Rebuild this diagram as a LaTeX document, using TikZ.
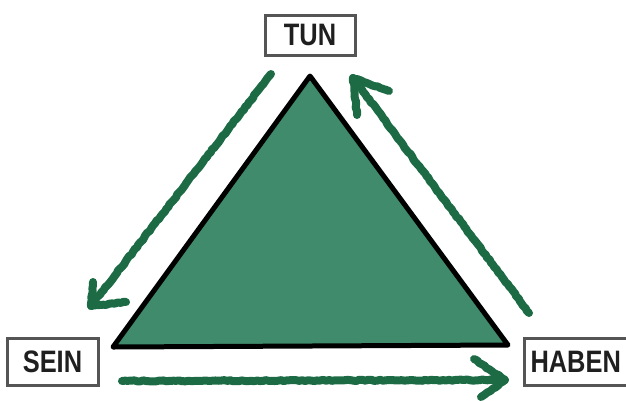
\documentclass[tikz,border=0pt]{standalone}
\usepackage{fontspec}
\setmainfont{Liberation Sans}[FakeStretch=0.82]
\usetikzlibrary{decorations.pathmorphing}
\definecolor{trifill}{HTML}{3F8B6C}
\definecolor{arrgreen}{HTML}{1C6B45}
\definecolor{boxgray}{HTML}{555555}
\tikzset{
  lbox/.style={draw=boxgray, line width=3pt, fill=white, inner sep=0pt,
    font=\fontsize{31}{31}\selectfont\bfseries, text=black!88},
  chalk/.style={draw=arrgreen, line width=8pt, line cap=round, line join=round,
    decorate, decoration={random steps, segment length=3pt, amplitude=0.6pt}},
  tri/.style={fill=trifill, draw=black, line width=5pt, line join=round}
}
\begin{document}
\begin{tikzpicture}[x=1pt,y=-1pt]
\useasboundingbox (0,0) rectangle (626,400);
% triangle
\coordinate (A) at (310,76);
\coordinate (L) at (113,347);
\coordinate (R) at (508,345);
\draw[tri] (A) -- (L) -- (R) -- cycle;
% boxes
\node[lbox, minimum width=90pt, minimum height=40pt] (tun) at (310,35) {TUN};
\node[lbox, minimum width=91pt, minimum height=47pt] (sein) at (52.5,361.5) {SEIN};
\node[lbox, minimum width=106pt, minimum height=47pt, anchor=west] (haben) at (523,361.5) {\hspace*{6pt}HABEN\hspace*{12pt}};
% left arrow (TUN -> SEIN)
\coordinate (l1) at (271,74);
\coordinate (l2) at (91,306);
\coordinate (l3) at (93,282);
\coordinate (l4) at (126,302);
\draw[chalk] (l1) -- (l2);
\draw[chalk] (l3) -- (l2) -- (l4);
% right arrow (HABEN -> TUN)
\coordinate (r1) at (529,313);
\coordinate (r2) at (353,78);
\coordinate (r3) at (389,91);
\coordinate (r4) at (357,115);
\draw[chalk] (r1) -- (r2);
\draw[chalk] (r3) -- (r2) -- (r4);
% bottom arrow (SEIN -> HABEN)
\coordinate (b1) at (122,381);
\coordinate (b2) at (505,380);
\coordinate (b3) at (474,359);
\coordinate (b4) at (481,397);
\draw[chalk] (b1) -- (b2);
\draw[chalk] (b3) -- (b2) -- (b4);
\end{tikzpicture}
\end{document}
